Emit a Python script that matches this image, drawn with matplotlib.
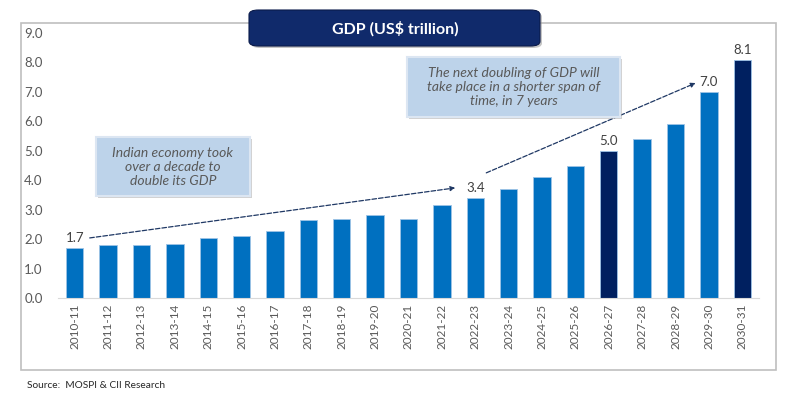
import matplotlib.pyplot as plt
from matplotlib.patches import FancyBboxPatch, Rectangle

years = ["2010-11", "2011-12", "2012-13", "2013-14", "2014-15", "2015-16", "2016-17",
         "2017-18", "2018-19", "2019-20", "2020-21", "2021-22", "2022-23", "2023-24",
         "2024-25", "2025-26", "2026-27", "2027-28", "2028-29", "2029-30", "2030-31"]
gdp = [1.7, 1.8, 1.8, 1.85, 2.04, 2.1, 2.29, 2.65, 2.7, 2.83, 2.68, 3.15, 3.4, 3.7,
       4.1, 4.5, 5.0, 5.4, 5.9, 7.0, 8.1]
highlight = ["2026-27", "2030-31"]
labelled = {"2010-11": "1.7", "2022-23": "3.4", "2026-27": "5.0", "2029-30": "7.0", "2030-31": "8.1"}

plt.rcParams['font.family'] = ['Lato', 'DejaVu Sans']
grey = '#595959'

fig = plt.figure(figsize=(7.95, 3.94), dpi=100)

# outer frame
fig.patches.append(Rectangle((21 / 795, 1 - 370 / 394), 755 / 795, 347 / 394, transform=fig.transFigure,
                             fill=False, edgecolor='#BFBFBF', linewidth=1.2, zorder=0))

ax = fig.add_axes([58 / 795, 1 - 298 / 394, 701 / 795, 265 / 394])
x = list(range(len(years)))
colors = ['#002060' if y in highlight else '#0070C0' for y in years]
ax.bar(x, gdp, width=0.52, color=colors, edgecolor='#9DC3E6', linewidth=0.6)

for i, y in enumerate(years):
    if y in labelled:
        ax.text(i, gdp[i] + 0.12, labelled[y], ha='center', va='bottom', fontsize=9.5, color='#404040')

ax.set_xlim(-0.5, len(years) - 0.5)
ax.set_ylim(0, 9)
ax.set_yticks([i for i in range(10)])
ax.set_yticklabels([f"{i:.1f}" for i in range(10)], fontsize=9.5, color=grey)
ax.set_xticks(x)
ax.set_xticklabels(years, rotation=90, fontsize=8.5, color=grey)
ax.tick_params(length=0, pad=4)
ax.tick_params(axis='y', pad=11)
for s in ['top', 'right', 'left']:
    ax.spines[s].set_visible(False)
ax.spines['bottom'].set_color('#D9D9D9')

# dashed arrows
ax.annotate("", xy=(11.4, 3.74), xytext=(0.45, 2.04),
            arrowprops=dict(arrowstyle='-|>', linestyle='--', color='#1F3864', lw=0.9,
                            mutation_scale=7, shrinkA=0, shrinkB=0))
ax.annotate("", xy=(18.6, 7.3), xytext=(12.33, 4.25),
            arrowprops=dict(arrowstyle='-|>', linestyle='--', color='#1F3864', lw=0.9,
                            mutation_scale=7, shrinkA=0, shrinkB=0))

# callout boxes
def callout(x0, y0, x1, y1, text):
    fig.patches.append(FancyBboxPatch((x0 / 795 + 0.002, 1 - y1 / 394 - 0.006), (x1 - x0) / 795, (y1 - y0) / 394,
                                      boxstyle='square,pad=0', transform=fig.transFigure,
                                      facecolor='#A6A6A6', edgecolor='none', alpha=0.5, zorder=3))
    fig.patches.append(FancyBboxPatch((x0 / 795, 1 - y1 / 394), (x1 - x0) / 795, (y1 - y0) / 394,
                                      boxstyle='square,pad=0', transform=fig.transFigure,
                                      facecolor='#BDD3EA', edgecolor='#DCE6F2', linewidth=1.5, zorder=4))
    fig.text((x0 + x1) / 2 / 795, 1 - (y0 + y1) / 2 / 394, text, ha='center', va='center',
             fontsize=10, style='italic', color=grey, linespacing=1.2, zorder=5)

callout(96, 137, 250, 196, "Indian economy took\nover a decade to\ndouble its GDP")
callout(407, 57, 620, 117, "The next doubling of GDP will\ntake place in a shorter span of\ntime, in 7 years")

# title box
fig.patches.append(FancyBboxPatch((251 / 795, 1 - 48 / 394), 291 / 795, 36 / 394,
                                  boxstyle='round,pad=0,rounding_size=0.012', transform=fig.transFigure,
                                  facecolor='#8C8C8C', edgecolor='none', alpha=0.5, zorder=3))
fig.patches.append(FancyBboxPatch((249 / 795, 1 - 46 / 394), 291 / 795, 36 / 394,
                                  boxstyle='round,pad=0,rounding_size=0.012', transform=fig.transFigure,
                                  facecolor='#102A6B', edgecolor='#0A1A4A', linewidth=0.8, zorder=4))
fig.text(395 / 795, 1 - 29 / 394, "GDP (US$ trillion)", ha='center', va='center',
         fontsize=11.5, fontweight='bold', color='white', zorder=5)

fig.text(27 / 795, 1 - 385 / 394, "Source:  MOSPI & CII Research", ha='left', va='center',
         fontsize=7.3, color='#262626')

fig.savefig("out.png", dpi=100)
